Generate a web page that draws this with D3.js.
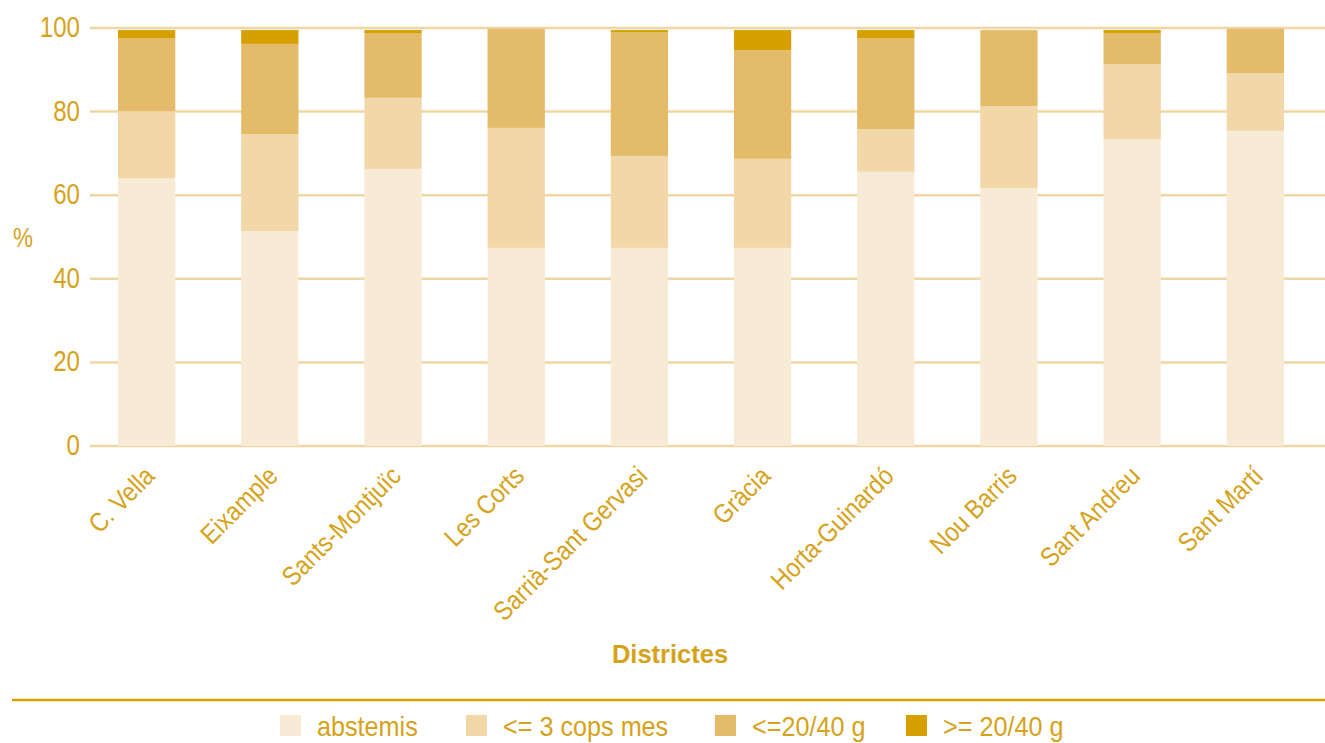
<!DOCTYPE html>
<html><head><meta charset="utf-8">
<script src="https://cdn.jsdelivr.net/npm/d3@7"></script>
<style>body{margin:0;background:#fff}svg text{font-family:"Liberation Sans Narrow","Arial Narrow","Liberation Sans",sans-serif;fill:#D6A21A}</style>
</head><body><svg id="c" width="1325" height="743"></svg>
<script>
const categories = ["C. Vella","Eixample","Sants-Montjuïc","Les Corts","Sarrià-Sant Gervasi","Gràcia","Horta-Guinardó","Nou Barris","Sant Andreu","Sant Martí"];
const seriesNames = ["abstemis","<= 3 cops mes","<=20/40 g",">= 20/40 g"];
const abstemis = [64.1,51.4,66.3,47.4,47.4,47.4,65.6,61.7,73.4,75.4];
const cops3 = [16.0,23.2,17.0,28.7,22.0,21.3,10.2,19.6,18.0,13.8];
const g2040 = [17.5,21.6,15.5,23.7,29.6,26.0,21.8,18.2,7.4,10.6];
const gt2040 = [1.9,3.3,0.7,0,0.5,4.8,1.9,0,0.7,0];
const yTicks = [0,20,40,60,80,100];
const colors = ["#F7EBD6","#F2D7A9","#E4BB68","#D6A000"];

const svg = d3.select("#c");
const x = d3.scaleBand().domain(categories).range([86,1316]).paddingInner(0.535).paddingOuter(0.26);
const y = d3.scaleLinear().domain([0,100]).range([446,28]);

// grid
svg.append("g").selectAll("line").data(yTicks).join("line")
  .attr("x1",90).attr("x2",1325).attr("y1",d=>y(d)).attr("y2",d=>y(d))
  .attr("stroke","#F0D6A2").attr("stroke-width",2.5);
svg.append("g").selectAll("text").data(yTicks).join("text")
  .attr("transform",d=>`translate(80,${y(d)-1.5}) scale(0.83,1)`)
  .attr("dy","0.36em").attr("text-anchor","end")
  .attr("font-size",29).text(d=>d);
svg.append("text").attr("transform","translate(23,237) scale(0.8,1)").attr("dy","0.36em").attr("text-anchor","middle").attr("font-size",28).text("%");

const rows = categories.map((c,i)=>({cat:c,s0:abstemis[i],s1:cops3[i],s2:g2040[i],s3:gt2040[i]}));
const stack = d3.stack().keys(["s0","s1","s2","s3"])(rows);
svg.append("g").selectAll("g").data(stack).join("g").attr("fill",(d,i)=>colors[i])
  .selectAll("rect").data(d=>d).join("rect")
  .attr("x",d=>x(d.data.cat)).attr("width",x.bandwidth())
  .attr("y",d=>y(d[1])).attr("height",d=>Math.max(0,y(d[0])-y(d[1])));

// x labels
svg.append("g").selectAll("text").data(categories).join("text")
  .attr("transform",d=>`translate(${x(d)+x.bandwidth()/2+3},${471}) rotate(-45) scale(0.88,1)`)
  .attr("text-anchor","end").attr("dy","0.35em").attr("font-size",26.5).text(d=>d);

svg.append("text").attr("x",670).attr("y",654).attr("dy","0.35em").attr("text-anchor","middle")
  .attr("font-size",25.5).attr("font-weight","bold").text("Districtes");

svg.append("line").attr("x1",12).attr("x2",1325).attr("y1",700).attr("y2",700).attr("stroke","#D6A000").attr("stroke-width",2.5);

const legX = [280,466,715,906];
const lg = svg.append("g").selectAll("g").data(seriesNames).join("g").attr("transform",(d,i)=>`translate(${legX[i]},0)`);
lg.append("rect").attr("x",0).attr("y",715).attr("width",21).attr("height",21).attr("fill",(d,i)=>colors[i]);
lg.append("text").attr("transform","translate(37,726) scale(0.9,1)").attr("dy","0.36em").attr("font-size",28).text(d=>d);
</script></body></html>
